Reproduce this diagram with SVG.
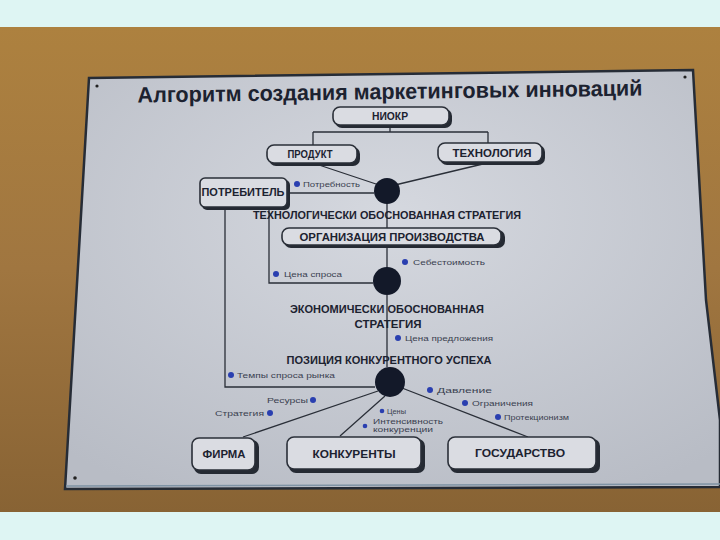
<svg xmlns="http://www.w3.org/2000/svg" width="720" height="540" viewBox="0 0 720 540">
<defs>
<linearGradient id="wall" x1="0" y1="0" x2="0" y2="1">
<stop offset="0" stop-color="#ad813f"/>
<stop offset="0.5" stop-color="#a07640"/>
<stop offset="1" stop-color="#886334"/>
</linearGradient>
<radialGradient id="board" cx="0.5" cy="0.35" r="0.75">
<stop offset="0" stop-color="#d5d8df"/>
<stop offset="1" stop-color="#b8bcc5"/>
</radialGradient>
<style>
.t{font-family:"Liberation Sans","DejaVu Sans",sans-serif;fill:#1c2230}
.nb{fill:#dadce2;stroke:#2a2f38;stroke-width:1.6}
.sh{fill:#252a33}
.nt{font-weight:bold;font-size:10px;text-anchor:middle}
.lbl{font-size:8px;fill:#3a4150}
.cap{font-weight:bold;font-size:10.5px;text-anchor:middle}
.dot{fill:#2a3fb0}
.hub{fill:#131929}
.c{stroke:#2a2f38;stroke-width:1.3;fill:none}
</style>
</defs>
<rect x="0" y="0" width="720" height="540" fill="#def5f3"/>
<rect x="0" y="27" width="720" height="485" fill="url(#wall)"/>
<polygon points="89,78 693,70 706,300 720,420 720,487 65,489" fill="url(#board)" stroke="#262c36" stroke-width="2.5"/>
<line x1="66" y1="486" x2="720" y2="484" stroke="#7f93a4" stroke-width="1.5"/>
<circle cx="97" cy="86" r="1.6" fill="#222"/>
<circle cx="685" cy="77" r="1.6" fill="#222"/>
<circle cx="75" cy="478" r="1.8" fill="#222"/>
<text class="t" x="390" y="99" font-size="22" font-weight="bold" text-anchor="middle" textLength="505" lengthAdjust="spacingAndGlyphs" transform="rotate(-0.8 390 92)">Алгоритм создания маркетинговых инноваций</text>

<g id="connectors">
<path class="c" d="M390,125 V132 M313,132 H488 M313,132 V145 M488,132 V143"/>
<path class="c" d="M313,163 L379,185 M487,163 L395,185"/>
<path class="c" d="M288,193 H374"/>
<path class="c" d="M387,203 V228 M387,245 V268 M387,295 V367"/>
<path class="c" d="M269,208 V283 H373"/>
<path class="c" d="M225,208 V387 H375"/>
<path class="c" d="M378,391 L243,437 M385,396 L340,436 M402,388 L528,437"/>
</g>

<g id="niokr">
<rect class="sh" x="335" y="109" width="117" height="19" rx="7"/>
<rect class="nb" x="333" y="107" width="116" height="18" rx="7"/>
<text class="t nt" x="390" y="119.5" font-size="8" textLength="36" lengthAdjust="spacingAndGlyphs">НИОКР</text>
</g>
<g id="produkt">
<rect class="sh" x="269" y="147" width="91" height="19" rx="7"/>
<rect class="nb" x="267" y="145" width="90" height="18" rx="7"/>
<text class="t nt" x="310" y="157.5" textLength="45" lengthAdjust="spacingAndGlyphs">ПРОДУКТ</text>
</g>
<g id="tehnologiya">
<rect class="sh" x="440" y="145" width="105" height="20" rx="7"/>
<rect class="nb" x="438" y="143" width="104" height="19" rx="7"/>
<text class="t nt" x="492" y="156.5" textLength="79" lengthAdjust="spacingAndGlyphs">ТЕХНОЛОГИЯ</text>
</g>
<g id="potrebitel">
<rect class="sh" x="202" y="180" width="88" height="30" rx="5"/>
<rect class="nb" x="200" y="178" width="87" height="29" rx="5"/>
<text class="t nt" x="243" y="195.5" textLength="83" lengthAdjust="spacingAndGlyphs">ПОТРЕБИТЕЛЬ</text>
</g>
<g id="hub1">
<circle class="hub" cx="387" cy="191" r="13"/>
<circle class="dot" cx="297" cy="184" r="3"/>
<text class="t lbl" x="303" y="187" textLength="57" lengthAdjust="spacingAndGlyphs">Потребность</text>
<text class="t cap" x="387" y="219" textLength="268" lengthAdjust="spacingAndGlyphs">ТЕХНОЛОГИЧЕСКИ ОБОСНОВАННАЯ СТРАТЕГИЯ</text>
</g>
<g id="organizaciya">
<rect class="sh" x="284" y="230" width="221" height="18" rx="7"/>
<rect class="nb" x="282" y="228" width="219" height="17" rx="7"/>
<text class="t nt" x="392" y="241" font-size="10.5" textLength="185" lengthAdjust="spacingAndGlyphs">ОРГАНИЗАЦИЯ ПРОИЗВОДСТВА</text>
</g>
<g id="hub2">
<circle class="hub" cx="387" cy="281" r="14"/>
<circle class="dot" cx="405" cy="262" r="3"/>
<text class="t lbl" x="413" y="265" textLength="72" lengthAdjust="spacingAndGlyphs">Себестоимость</text>
<circle class="dot" cx="276" cy="274" r="3"/>
<text class="t lbl" x="284" y="277" textLength="58" lengthAdjust="spacingAndGlyphs">Цена спроса</text>
<text class="t cap" x="387" y="313" textLength="194" lengthAdjust="spacingAndGlyphs">ЭКОНОМИЧЕСКИ ОБОСНОВАННАЯ</text>
<text class="t cap" x="388" y="328" textLength="67" lengthAdjust="spacingAndGlyphs">СТРАТЕГИЯ</text>
<circle class="dot" cx="398" cy="338" r="3"/>
<text class="t lbl" x="405" y="341" textLength="88" lengthAdjust="spacingAndGlyphs">Цена предложения</text>
</g>
<g id="hub3">
<text class="t cap" x="389" y="364" textLength="205" lengthAdjust="spacingAndGlyphs">ПОЗИЦИЯ КОНКУРЕНТНОГО УСПЕХА</text>
<circle class="hub" cx="390" cy="382" r="15"/>
<circle class="dot" cx="231" cy="375" r="3"/>
<text class="t lbl" x="237" y="378" textLength="98" lengthAdjust="spacingAndGlyphs">Темпы спроса рынка</text>
<circle class="dot" cx="430" cy="390" r="3"/>
<text class="t lbl" x="437" y="393" textLength="55" lengthAdjust="spacingAndGlyphs">Давление</text>
<circle class="dot" cx="465" cy="403" r="3"/>
<text class="t lbl" x="472" y="406" textLength="61" lengthAdjust="spacingAndGlyphs">Ограничения</text>
<circle class="dot" cx="498" cy="417" r="3"/>
<text class="t lbl" x="504" y="420" textLength="65" lengthAdjust="spacingAndGlyphs">Протекционизм</text>
<circle class="dot" cx="382" cy="411" r="2.3"/>
<text class="t lbl" x="387" y="414" textLength="19" lengthAdjust="spacingAndGlyphs">Цены</text>
<circle class="dot" cx="365" cy="426" r="2.3"/>
<text class="t lbl" x="373" y="424" textLength="70" lengthAdjust="spacingAndGlyphs">Интенсивность</text>
<text class="t lbl" x="373" y="432" textLength="60" lengthAdjust="spacingAndGlyphs">конкуренции</text>
<text class="t lbl" x="308" y="403" text-anchor="end" textLength="41" lengthAdjust="spacingAndGlyphs">Ресурсы</text>
<circle class="dot" cx="313" cy="400" r="3"/>
<text class="t lbl" x="264" y="416" text-anchor="end" textLength="49" lengthAdjust="spacingAndGlyphs">Стратегия</text>
<circle class="dot" cx="270" cy="413" r="3"/>
</g>
<g id="firma">
<rect class="sh" x="194" y="440" width="65" height="34" rx="7"/>
<rect class="nb" x="192" y="438" width="63" height="32" rx="7"/>
<text class="t nt" x="224" y="458" font-size="10.5" textLength="43" lengthAdjust="spacingAndGlyphs">ФИРМА</text>
</g>
<g id="konkurenty">
<rect class="sh" x="289" y="439" width="136" height="34" rx="7"/>
<rect class="nb" x="287" y="437" width="134" height="32" rx="7"/>
<text class="t nt" x="354" y="457.5" font-size="11.5" textLength="83" lengthAdjust="spacingAndGlyphs">КОНКУРЕНТЫ</text>
</g>
<g id="gosudarstvo">
<rect class="sh" x="450" y="439" width="150" height="34" rx="7"/>
<rect class="nb" x="448" y="437" width="148" height="32" rx="7"/>
<text class="t nt" x="520" y="456.5" font-size="11.5" textLength="90" lengthAdjust="spacingAndGlyphs">ГОСУДАРСТВО</text>
</g>
</svg>
